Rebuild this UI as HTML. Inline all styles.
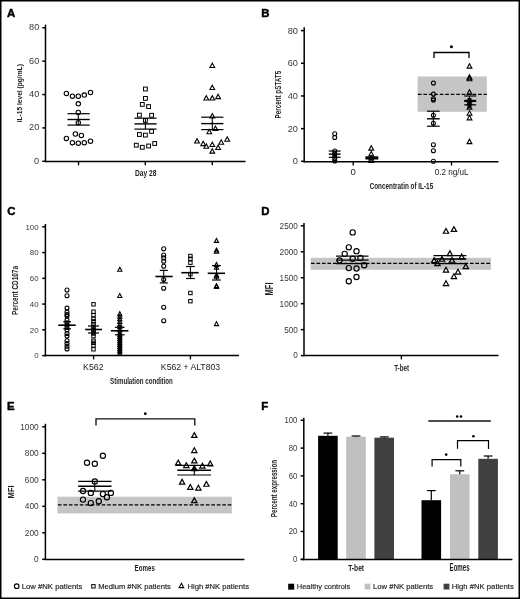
<!DOCTYPE html>
<html><head><meta charset="utf-8"><style>
html,body{margin:0;padding:0;background:#fff;}
svg{display:block;will-change:transform;font-family:"Liberation Sans",sans-serif;}
</style></head><body>
<svg width="520" height="599" viewBox="0 0 520 599">
<rect x="0" y="0" width="520" height="599" fill="#fff"/>
<text x="7.01" y="16.90" font-size="11.4" font-weight="bold" fill="#000" stroke="#000" stroke-width="0.45">A</text>
<line x1="45.50" y1="24.60" x2="45.50" y2="162.25" stroke="#000" stroke-width="1.5" />
<line x1="42.30" y1="27.80" x2="45.50" y2="27.80" stroke="#000" stroke-width="1.5" />
<text x="29.03" y="30.20" font-size="8.60" font-weight="normal" fill="#383838" textLength="10.24" lengthAdjust="spacingAndGlyphs" >80</text>
<line x1="42.30" y1="61.17" x2="45.50" y2="61.17" stroke="#000" stroke-width="1.5" />
<text x="29.03" y="63.57" font-size="8.60" font-weight="normal" fill="#383838" textLength="10.24" lengthAdjust="spacingAndGlyphs" >60</text>
<line x1="42.30" y1="94.54" x2="45.50" y2="94.54" stroke="#000" stroke-width="1.5" />
<text x="29.03" y="96.94" font-size="8.60" font-weight="normal" fill="#383838" textLength="10.24" lengthAdjust="spacingAndGlyphs" >40</text>
<line x1="42.30" y1="127.91" x2="45.50" y2="127.91" stroke="#000" stroke-width="1.5" />
<text x="29.03" y="130.31" font-size="8.60" font-weight="normal" fill="#383838" textLength="10.24" lengthAdjust="spacingAndGlyphs" >20</text>
<line x1="42.30" y1="161.28" x2="45.50" y2="161.28" stroke="#000" stroke-width="1.5" />
<text x="34.14" y="163.68" font-size="8.60" font-weight="normal" fill="#383838" textLength="5.12" lengthAdjust="spacingAndGlyphs" >0</text>
<line x1="45.50" y1="161.50" x2="245.50" y2="161.50" stroke="#000" stroke-width="1.5" />
<line x1="78.50" y1="161.50" x2="78.50" y2="165.30" stroke="#000" stroke-width="1.35" />
<line x1="145.30" y1="161.50" x2="145.30" y2="165.30" stroke="#000" stroke-width="1.35" />
<line x1="212.30" y1="161.50" x2="212.30" y2="165.30" stroke="#000" stroke-width="1.35" />
<text x="134.95" y="175.60" font-size="9.17" font-weight="bold" fill="#222" textLength="21.46" lengthAdjust="spacingAndGlyphs" >Day 28</text>
<text x="22.30" y="122.34" font-size="8.00" font-weight="bold" fill="#222" textLength="58.18" lengthAdjust="spacingAndGlyphs" transform="rotate(-90 22.30 122.34)">IL-15 level (pg/mL)</text>
<circle cx="66.40" cy="93.40" r="2.2" fill="none" stroke="#000" stroke-width="1.1"/>
<circle cx="72.40" cy="96.20" r="2.2" fill="none" stroke="#000" stroke-width="1.1"/>
<circle cx="78.30" cy="96.20" r="2.2" fill="none" stroke="#000" stroke-width="1.1"/>
<circle cx="84.30" cy="95.10" r="2.2" fill="none" stroke="#000" stroke-width="1.1"/>
<circle cx="90.50" cy="92.40" r="2.2" fill="none" stroke="#000" stroke-width="1.1"/>
<circle cx="78.30" cy="103.80" r="2.2" fill="none" stroke="#000" stroke-width="1.1"/>
<circle cx="78.30" cy="112.50" r="2.2" fill="none" stroke="#000" stroke-width="1.1"/>
<circle cx="78.30" cy="122.70" r="2.2" fill="none" stroke="#000" stroke-width="1.1"/>
<circle cx="75.40" cy="134.00" r="2.2" fill="none" stroke="#000" stroke-width="1.1"/>
<circle cx="81.40" cy="135.40" r="2.2" fill="none" stroke="#000" stroke-width="1.1"/>
<circle cx="66.40" cy="138.40" r="2.2" fill="none" stroke="#000" stroke-width="1.1"/>
<circle cx="72.40" cy="142.70" r="2.2" fill="none" stroke="#000" stroke-width="1.1"/>
<circle cx="78.30" cy="143.20" r="2.2" fill="none" stroke="#000" stroke-width="1.1"/>
<circle cx="84.30" cy="142.70" r="2.2" fill="none" stroke="#000" stroke-width="1.1"/>
<circle cx="90.50" cy="141.20" r="2.2" fill="none" stroke="#000" stroke-width="1.1"/>
<line x1="67.50" y1="119.50" x2="89.70" y2="119.50" stroke="#000" stroke-width="1.4" />
<line x1="67.50" y1="113.70" x2="89.70" y2="113.70" stroke="#000" stroke-width="1.2" />
<line x1="67.50" y1="125.10" x2="89.70" y2="125.10" stroke="#000" stroke-width="1.2" />
<line x1="78.30" y1="113.70" x2="78.30" y2="125.10" stroke="#000" stroke-width="1.08" />
<rect x="143.50" y="87.10" width="3.8" height="3.8" fill="none" stroke="#000" stroke-width="1.0"/>
<rect x="143.50" y="96.50" width="3.8" height="3.8" fill="none" stroke="#000" stroke-width="1.0"/>
<rect x="140.40" y="102.50" width="3.8" height="3.8" fill="none" stroke="#000" stroke-width="1.0"/>
<rect x="146.70" y="104.70" width="3.8" height="3.8" fill="none" stroke="#000" stroke-width="1.0"/>
<rect x="137.50" y="113.20" width="3.8" height="3.8" fill="none" stroke="#000" stroke-width="1.0"/>
<rect x="149.70" y="113.40" width="3.8" height="3.8" fill="none" stroke="#000" stroke-width="1.0"/>
<rect x="143.50" y="118.50" width="3.8" height="3.8" fill="none" stroke="#000" stroke-width="1.0"/>
<rect x="137.50" y="132.60" width="3.8" height="3.8" fill="none" stroke="#000" stroke-width="1.0"/>
<rect x="143.50" y="133.20" width="3.8" height="3.8" fill="none" stroke="#000" stroke-width="1.0"/>
<rect x="149.70" y="129.50" width="3.8" height="3.8" fill="none" stroke="#000" stroke-width="1.0"/>
<rect x="134.40" y="143.30" width="3.8" height="3.8" fill="none" stroke="#000" stroke-width="1.0"/>
<rect x="140.40" y="145.40" width="3.8" height="3.8" fill="none" stroke="#000" stroke-width="1.0"/>
<rect x="146.70" y="144.10" width="3.8" height="3.8" fill="none" stroke="#000" stroke-width="1.0"/>
<rect x="152.80" y="141.60" width="3.8" height="3.8" fill="none" stroke="#000" stroke-width="1.0"/>
<line x1="134.40" y1="123.90" x2="156.60" y2="123.90" stroke="#000" stroke-width="1.4" />
<line x1="134.40" y1="118.20" x2="156.60" y2="118.20" stroke="#000" stroke-width="1.2" />
<line x1="134.40" y1="129.10" x2="156.60" y2="129.10" stroke="#000" stroke-width="1.2" />
<line x1="145.40" y1="118.20" x2="145.40" y2="129.10" stroke="#000" stroke-width="1.08" />
<polygon points="212.30,63.15 214.70,67.55 209.90,67.55" fill="none" stroke="#000" stroke-width="1.1" stroke-linejoin="miter"/>
<polygon points="212.30,85.15 214.70,89.55 209.90,89.55" fill="none" stroke="#000" stroke-width="1.1" stroke-linejoin="miter"/>
<polygon points="206.30,95.65 208.70,100.05 203.90,100.05" fill="none" stroke="#000" stroke-width="1.1" stroke-linejoin="miter"/>
<polygon points="212.30,95.65 214.70,100.05 209.90,100.05" fill="none" stroke="#000" stroke-width="1.1" stroke-linejoin="miter"/>
<polygon points="218.10,94.25 220.50,98.65 215.70,98.65" fill="none" stroke="#000" stroke-width="1.1" stroke-linejoin="miter"/>
<polygon points="212.30,113.55 214.70,117.95 209.90,117.95" fill="none" stroke="#000" stroke-width="1.1" stroke-linejoin="miter"/>
<polygon points="215.40,126.05 217.80,130.45 213.00,130.45" fill="none" stroke="#000" stroke-width="1.1" stroke-linejoin="miter"/>
<polygon points="209.30,129.35 211.70,133.75 206.90,133.75" fill="none" stroke="#000" stroke-width="1.1" stroke-linejoin="miter"/>
<polygon points="197.00,138.65 199.40,143.05 194.60,143.05" fill="none" stroke="#000" stroke-width="1.1" stroke-linejoin="miter"/>
<polygon points="203.20,141.25 205.60,145.65 200.80,145.65" fill="none" stroke="#000" stroke-width="1.1" stroke-linejoin="miter"/>
<polygon points="206.30,143.85 208.70,148.25 203.90,148.25" fill="none" stroke="#000" stroke-width="1.1" stroke-linejoin="miter"/>
<polygon points="212.30,142.15 214.70,146.55 209.90,146.55" fill="none" stroke="#000" stroke-width="1.1" stroke-linejoin="miter"/>
<polygon points="221.20,139.85 223.60,144.25 218.80,144.25" fill="none" stroke="#000" stroke-width="1.1" stroke-linejoin="miter"/>
<polygon points="227.20,136.85 229.60,141.25 224.80,141.25" fill="none" stroke="#000" stroke-width="1.1" stroke-linejoin="miter"/>
<polygon points="218.10,145.15 220.50,149.55 215.70,149.55" fill="none" stroke="#000" stroke-width="1.1" stroke-linejoin="miter"/>
<polygon points="212.30,148.75 214.70,153.15 209.90,153.15" fill="none" stroke="#000" stroke-width="1.1" stroke-linejoin="miter"/>
<line x1="201.20" y1="123.60" x2="223.40" y2="123.60" stroke="#000" stroke-width="1.4" />
<line x1="201.20" y1="117.20" x2="223.40" y2="117.20" stroke="#000" stroke-width="1.2" />
<line x1="201.20" y1="129.60" x2="223.40" y2="129.60" stroke="#000" stroke-width="1.2" />
<line x1="212.30" y1="117.20" x2="212.30" y2="129.60" stroke="#000" stroke-width="1.08" />
<circle cx="212.30" cy="123.60" r="1.1" fill="#000"/>
<text x="261.24" y="16.70" font-size="11.4" font-weight="bold" fill="#000" stroke="#000" stroke-width="0.45">B</text>
<line x1="304.20" y1="27.20" x2="304.20" y2="162.45" stroke="#000" stroke-width="1.5" />
<line x1="301.00" y1="30.60" x2="304.20" y2="30.60" stroke="#000" stroke-width="1.5" />
<text x="287.73" y="33.60" font-size="8.60" font-weight="normal" fill="#383838" textLength="10.24" lengthAdjust="spacingAndGlyphs" >80</text>
<line x1="301.00" y1="63.28" x2="304.20" y2="63.28" stroke="#000" stroke-width="1.5" />
<text x="287.73" y="66.28" font-size="8.60" font-weight="normal" fill="#383838" textLength="10.24" lengthAdjust="spacingAndGlyphs" >60</text>
<line x1="301.00" y1="95.96" x2="304.20" y2="95.96" stroke="#000" stroke-width="1.5" />
<text x="287.73" y="98.96" font-size="8.60" font-weight="normal" fill="#383838" textLength="10.24" lengthAdjust="spacingAndGlyphs" >40</text>
<line x1="301.00" y1="128.64" x2="304.20" y2="128.64" stroke="#000" stroke-width="1.5" />
<text x="287.73" y="131.64" font-size="8.60" font-weight="normal" fill="#383838" textLength="10.24" lengthAdjust="spacingAndGlyphs" >20</text>
<line x1="301.00" y1="161.32" x2="304.20" y2="161.32" stroke="#000" stroke-width="1.5" />
<text x="292.84" y="164.32" font-size="8.60" font-weight="normal" fill="#383838" textLength="5.12" lengthAdjust="spacingAndGlyphs" >0</text>
<rect x="417.60" y="76.50" width="69.20" height="35.30" fill="#c5c5c5" />
<line x1="417.90" y1="94.40" x2="486.80" y2="94.40" stroke="#000" stroke-width="1.3" stroke-dasharray="3.6 1.88"/>
<line x1="304.20" y1="161.70" x2="498.50" y2="161.70" stroke="#000" stroke-width="1.5" />
<line x1="353.20" y1="161.70" x2="353.20" y2="165.50" stroke="#000" stroke-width="1.35" />
<line x1="451.50" y1="161.70" x2="451.50" y2="165.50" stroke="#000" stroke-width="1.35" />
<text x="350.62" y="175.20" font-size="8.60" font-weight="normal" fill="#222" textLength="5.35" lengthAdjust="spacingAndGlyphs" >0</text>
<text x="434.68" y="175.20" font-size="8.28" font-weight="normal" fill="#222" textLength="33.89" lengthAdjust="spacingAndGlyphs" >0.2 ng/uL</text>
<text x="369.64" y="188.50" font-size="8.83" font-weight="bold" fill="#222" textLength="63.54" lengthAdjust="spacingAndGlyphs" >Concentratin of IL-15</text>
<text x="281.20" y="118.42" font-size="8.31" font-weight="bold" fill="#222" textLength="47.60" lengthAdjust="spacingAndGlyphs" transform="rotate(-90 281.20 118.42)">Percent pSTAT5</text>
<polyline points="434.0,57.9 434.0,52.5 469.0,52.5 469.0,57.9" fill="none" stroke="#000" stroke-width="1.3"/>
<circle cx="451.40" cy="46.70" r="1.5" fill="#000"/>
<circle cx="334.75" cy="133.75" r="2.0" fill="none" stroke="#000" stroke-width="1.1"/>
<circle cx="334.75" cy="137.50" r="2.0" fill="none" stroke="#000" stroke-width="1.1"/>
<circle cx="334.75" cy="151.00" r="2.0" fill="none" stroke="#000" stroke-width="1.1"/>
<circle cx="334.75" cy="153.50" r="2.0" fill="none" stroke="#000" stroke-width="1.1"/>
<circle cx="334.75" cy="156.00" r="2.0" fill="none" stroke="#000" stroke-width="1.1"/>
<circle cx="334.75" cy="158.50" r="2.0" fill="none" stroke="#000" stroke-width="1.1"/>
<circle cx="334.75" cy="161.00" r="2.0" fill="none" stroke="#000" stroke-width="1.1"/>
<line x1="328.75" y1="154.10" x2="340.60" y2="154.10" stroke="#000" stroke-width="1.4" />
<line x1="328.75" y1="151.00" x2="340.60" y2="151.00" stroke="#000" stroke-width="1.2" />
<line x1="328.75" y1="157.30" x2="340.60" y2="157.30" stroke="#000" stroke-width="1.2" />
<line x1="334.75" y1="151.00" x2="334.75" y2="157.30" stroke="#000" stroke-width="1.08" />
<polygon points="371.25,145.75 373.65,150.15 368.85,150.15" fill="none" stroke="#000" stroke-width="1.1" stroke-linejoin="miter"/>
<polygon points="371.25,151.45 373.65,155.85 368.85,155.85" fill="none" stroke="#000" stroke-width="1.1" stroke-linejoin="miter"/>
<polygon points="371.25,155.65 373.65,160.05 368.85,160.05" fill="none" stroke="#000" stroke-width="1.1" stroke-linejoin="miter"/>
<polygon points="371.25,158.15 373.65,162.55 368.85,162.55" fill="none" stroke="#000" stroke-width="1.1" stroke-linejoin="miter"/>
<line x1="365.40" y1="157.90" x2="378.30" y2="157.90" stroke="#000" stroke-width="3.2" />
<circle cx="433.40" cy="83.10" r="2.0" fill="none" stroke="#000" stroke-width="1.1"/>
<circle cx="433.40" cy="94.10" r="2.0" fill="none" stroke="#000" stroke-width="1.1"/>
<circle cx="433.40" cy="98.70" r="2.0" fill="none" stroke="#000" stroke-width="1.1"/>
<circle cx="433.40" cy="100.10" r="2.0" fill="none" stroke="#000" stroke-width="1.1"/>
<circle cx="433.40" cy="115.20" r="2.0" fill="none" stroke="#000" stroke-width="1.1"/>
<circle cx="433.40" cy="123.20" r="2.0" fill="none" stroke="#000" stroke-width="1.1"/>
<circle cx="433.40" cy="144.80" r="2.0" fill="none" stroke="#000" stroke-width="1.1"/>
<circle cx="433.40" cy="150.80" r="2.0" fill="none" stroke="#000" stroke-width="1.1"/>
<circle cx="433.40" cy="161.30" r="2.0" fill="none" stroke="#000" stroke-width="1.1"/>
<line x1="427.00" y1="118.80" x2="439.70" y2="118.80" stroke="#000" stroke-width="1.4" />
<line x1="427.00" y1="111.20" x2="439.70" y2="111.20" stroke="#000" stroke-width="1.2" />
<line x1="427.00" y1="126.20" x2="439.70" y2="126.20" stroke="#000" stroke-width="1.2" />
<line x1="433.40" y1="111.20" x2="433.40" y2="126.20" stroke="#000" stroke-width="1.08" />
<polygon points="469.50,63.75 471.90,68.15 467.10,68.15" fill="none" stroke="#000" stroke-width="1.1" stroke-linejoin="miter"/>
<polygon points="469.50,74.75 471.90,79.15 467.10,79.15" fill="none" stroke="#000" stroke-width="1.1" stroke-linejoin="miter"/>
<polygon points="469.50,76.35 471.90,80.75 467.10,80.75" fill="none" stroke="#000" stroke-width="1.1" stroke-linejoin="miter"/>
<polygon points="469.50,89.75 471.90,94.15 467.10,94.15" fill="none" stroke="#000" stroke-width="1.1" stroke-linejoin="miter"/>
<polygon points="469.50,97.65 471.90,102.05 467.10,102.05" fill="none" stroke="#000" stroke-width="1.1" stroke-linejoin="miter"/>
<polygon points="469.50,100.65 471.90,105.05 467.10,105.05" fill="none" stroke="#000" stroke-width="1.1" stroke-linejoin="miter"/>
<polygon points="469.50,104.75 471.90,109.15 467.10,109.15" fill="none" stroke="#000" stroke-width="1.1" stroke-linejoin="miter"/>
<polygon points="469.50,110.85 471.90,115.25 467.10,115.25" fill="none" stroke="#000" stroke-width="1.1" stroke-linejoin="miter"/>
<polygon points="469.50,115.45 471.90,119.85 467.10,119.85" fill="none" stroke="#000" stroke-width="1.1" stroke-linejoin="miter"/>
<polygon points="469.50,139.25 471.90,143.65 467.10,143.65" fill="none" stroke="#000" stroke-width="1.1" stroke-linejoin="miter"/>
<line x1="464.20" y1="100.90" x2="476.20" y2="100.90" stroke="#000" stroke-width="2.2" />
<line x1="464.20" y1="96.00" x2="476.20" y2="96.00" stroke="#000" stroke-width="1.2" />
<line x1="464.20" y1="104.80" x2="476.20" y2="104.80" stroke="#000" stroke-width="1.2" />
<line x1="469.50" y1="96.00" x2="469.50" y2="104.80" stroke="#000" stroke-width="1.08" />
<rect x="467.60" y="98.00" width="3.80" height="10.00" fill="#000" />
<text x="7.23" y="215.30" font-size="11.4" font-weight="bold" fill="#000" stroke="#000" stroke-width="0.45">C</text>
<line x1="45.40" y1="224.00" x2="45.40" y2="356.35" stroke="#000" stroke-width="1.5" />
<line x1="42.20" y1="226.80" x2="45.40" y2="226.80" stroke="#000" stroke-width="1.5" />
<text x="25.43" y="229.56" font-size="7.90" font-weight="normal" fill="#383838" textLength="13.18" lengthAdjust="spacingAndGlyphs" >100</text>
<line x1="42.20" y1="252.56" x2="45.40" y2="252.56" stroke="#000" stroke-width="1.5" />
<text x="29.82" y="255.32" font-size="7.90" font-weight="normal" fill="#383838" textLength="8.79" lengthAdjust="spacingAndGlyphs" >80</text>
<line x1="42.20" y1="278.32" x2="45.40" y2="278.32" stroke="#000" stroke-width="1.5" />
<text x="29.82" y="281.08" font-size="7.90" font-weight="normal" fill="#383838" textLength="8.79" lengthAdjust="spacingAndGlyphs" >60</text>
<line x1="42.20" y1="304.08" x2="45.40" y2="304.08" stroke="#000" stroke-width="1.5" />
<text x="29.82" y="306.84" font-size="7.90" font-weight="normal" fill="#383838" textLength="8.79" lengthAdjust="spacingAndGlyphs" >40</text>
<line x1="42.20" y1="329.84" x2="45.40" y2="329.84" stroke="#000" stroke-width="1.5" />
<text x="29.82" y="332.60" font-size="7.90" font-weight="normal" fill="#383838" textLength="8.79" lengthAdjust="spacingAndGlyphs" >20</text>
<line x1="42.20" y1="355.60" x2="45.40" y2="355.60" stroke="#000" stroke-width="1.5" />
<text x="34.22" y="358.36" font-size="7.90" font-weight="normal" fill="#383838" textLength="4.39" lengthAdjust="spacingAndGlyphs" >0</text>
<line x1="45.40" y1="355.60" x2="239.00" y2="355.60" stroke="#000" stroke-width="1.5" />
<line x1="93.60" y1="355.60" x2="93.60" y2="359.40" stroke="#000" stroke-width="1.35" />
<line x1="190.40" y1="355.60" x2="190.40" y2="359.40" stroke="#000" stroke-width="1.35" />
<text x="83.08" y="370.20" font-size="8.45" font-weight="normal" fill="#222" textLength="20.46" lengthAdjust="spacingAndGlyphs" >K562</text>
<text x="160.89" y="370.20" font-size="8.45" font-weight="normal" fill="#222" textLength="59.19" lengthAdjust="spacingAndGlyphs" >K562 + ALT803</text>
<text x="110.12" y="383.70" font-size="9.38" font-weight="bold" fill="#222" textLength="62.76" lengthAdjust="spacingAndGlyphs" >Stimulation condition</text>
<text x="18.50" y="314.93" font-size="8.60" font-weight="bold" fill="#222" textLength="48.89" lengthAdjust="spacingAndGlyphs" transform="rotate(-90 18.50 314.93)">Percent CD107a</text>
<circle cx="67.00" cy="290.00" r="2.0" fill="none" stroke="#000" stroke-width="1.1"/>
<circle cx="67.00" cy="295.80" r="2.0" fill="none" stroke="#000" stroke-width="1.1"/>
<circle cx="67.00" cy="308.10" r="2.0" fill="none" stroke="#000" stroke-width="1.1"/>
<circle cx="67.00" cy="312.10" r="2.0" fill="none" stroke="#000" stroke-width="1.1"/>
<circle cx="67.00" cy="314.50" r="2.0" fill="none" stroke="#000" stroke-width="1.1"/>
<circle cx="67.00" cy="316.10" r="2.0" fill="none" stroke="#000" stroke-width="1.1"/>
<circle cx="67.00" cy="320.10" r="2.0" fill="none" stroke="#000" stroke-width="1.1"/>
<circle cx="67.00" cy="322.80" r="2.0" fill="none" stroke="#000" stroke-width="1.1"/>
<circle cx="67.00" cy="325.00" r="2.0" fill="none" stroke="#000" stroke-width="1.1"/>
<circle cx="67.00" cy="327.50" r="2.0" fill="none" stroke="#000" stroke-width="1.1"/>
<circle cx="67.00" cy="330.00" r="2.0" fill="none" stroke="#000" stroke-width="1.1"/>
<circle cx="67.00" cy="333.50" r="2.0" fill="none" stroke="#000" stroke-width="1.1"/>
<circle cx="67.00" cy="336.10" r="2.0" fill="none" stroke="#000" stroke-width="1.1"/>
<circle cx="67.00" cy="340.80" r="2.0" fill="none" stroke="#000" stroke-width="1.1"/>
<circle cx="67.00" cy="343.50" r="2.0" fill="none" stroke="#000" stroke-width="1.1"/>
<circle cx="67.00" cy="346.20" r="2.0" fill="none" stroke="#000" stroke-width="1.1"/>
<circle cx="67.00" cy="348.90" r="2.0" fill="none" stroke="#000" stroke-width="1.1"/>
<line x1="58.30" y1="325.20" x2="75.70" y2="325.20" stroke="#000" stroke-width="1.6" />
<line x1="63.30" y1="321.70" x2="71.00" y2="321.70" stroke="#000" stroke-width="1.2" />
<line x1="63.30" y1="328.80" x2="71.00" y2="328.80" stroke="#000" stroke-width="1.2" />
<line x1="67.00" y1="321.70" x2="67.00" y2="328.80" stroke="#000" stroke-width="1.08" />
<rect x="91.80" y="302.60" width="3.4" height="3.4" fill="none" stroke="#000" stroke-width="1.0"/>
<rect x="91.80" y="310.00" width="3.4" height="3.4" fill="none" stroke="#000" stroke-width="1.0"/>
<rect x="91.80" y="313.50" width="3.4" height="3.4" fill="none" stroke="#000" stroke-width="1.0"/>
<rect x="91.80" y="317.10" width="3.4" height="3.4" fill="none" stroke="#000" stroke-width="1.0"/>
<rect x="91.80" y="319.70" width="3.4" height="3.4" fill="none" stroke="#000" stroke-width="1.0"/>
<rect x="91.80" y="322.40" width="3.4" height="3.4" fill="none" stroke="#000" stroke-width="1.0"/>
<rect x="91.80" y="325.10" width="3.4" height="3.4" fill="none" stroke="#000" stroke-width="1.0"/>
<rect x="91.80" y="327.80" width="3.4" height="3.4" fill="none" stroke="#000" stroke-width="1.0"/>
<rect x="91.80" y="329.80" width="3.4" height="3.4" fill="none" stroke="#000" stroke-width="1.0"/>
<rect x="91.80" y="331.80" width="3.4" height="3.4" fill="none" stroke="#000" stroke-width="1.0"/>
<rect x="91.80" y="334.40" width="3.4" height="3.4" fill="none" stroke="#000" stroke-width="1.0"/>
<rect x="91.80" y="339.10" width="3.4" height="3.4" fill="none" stroke="#000" stroke-width="1.0"/>
<rect x="91.80" y="341.10" width="3.4" height="3.4" fill="none" stroke="#000" stroke-width="1.0"/>
<rect x="91.80" y="343.80" width="3.4" height="3.4" fill="none" stroke="#000" stroke-width="1.0"/>
<rect x="91.80" y="347.60" width="3.4" height="3.4" fill="none" stroke="#000" stroke-width="1.0"/>
<line x1="85.10" y1="329.50" x2="102.00" y2="329.50" stroke="#000" stroke-width="1.6" />
<line x1="88.00" y1="326.00" x2="99.00" y2="326.00" stroke="#000" stroke-width="1.2" />
<line x1="88.00" y1="333.00" x2="99.00" y2="333.00" stroke="#000" stroke-width="1.2" />
<line x1="93.50" y1="326.00" x2="93.50" y2="333.00" stroke="#000" stroke-width="1.08" />
<rect x="118.30" y="332.00" width="3.00" height="22.50" fill="#000" />
<polygon points="119.80,267.30 121.90,271.20 117.70,271.20" fill="none" stroke="#000" stroke-width="1.1" stroke-linejoin="miter"/>
<polygon points="119.80,293.60 121.90,297.50 117.70,297.50" fill="none" stroke="#000" stroke-width="1.1" stroke-linejoin="miter"/>
<polygon points="119.80,311.70 121.90,315.60 117.70,315.60" fill="none" stroke="#000" stroke-width="1.1" stroke-linejoin="miter"/>
<polygon points="119.80,314.30 121.90,318.20 117.70,318.20" fill="none" stroke="#000" stroke-width="1.1" stroke-linejoin="miter"/>
<polygon points="119.80,316.90 121.90,320.80 117.70,320.80" fill="none" stroke="#000" stroke-width="1.1" stroke-linejoin="miter"/>
<polygon points="119.80,319.60 121.90,323.50 117.70,323.50" fill="none" stroke="#000" stroke-width="1.1" stroke-linejoin="miter"/>
<polygon points="119.80,322.20 121.90,326.10 117.70,326.10" fill="none" stroke="#000" stroke-width="1.1" stroke-linejoin="miter"/>
<polygon points="119.80,324.90 121.90,328.80 117.70,328.80" fill="none" stroke="#000" stroke-width="1.1" stroke-linejoin="miter"/>
<polygon points="119.80,327.90 121.90,331.80 117.70,331.80" fill="none" stroke="#000" stroke-width="1.1" stroke-linejoin="miter"/>
<polygon points="119.80,330.90 121.90,334.80 117.70,334.80" fill="none" stroke="#000" stroke-width="1.1" stroke-linejoin="miter"/>
<polygon points="119.80,332.90 121.90,336.80 117.70,336.80" fill="none" stroke="#000" stroke-width="1.1" stroke-linejoin="miter"/>
<polygon points="119.80,334.90 121.90,338.80 117.70,338.80" fill="none" stroke="#000" stroke-width="1.1" stroke-linejoin="miter"/>
<polygon points="119.80,336.90 121.90,340.80 117.70,340.80" fill="none" stroke="#000" stroke-width="1.1" stroke-linejoin="miter"/>
<polygon points="119.80,338.90 121.90,342.80 117.70,342.80" fill="none" stroke="#000" stroke-width="1.1" stroke-linejoin="miter"/>
<polygon points="119.80,340.90 121.90,344.80 117.70,344.80" fill="none" stroke="#000" stroke-width="1.1" stroke-linejoin="miter"/>
<polygon points="119.80,342.90 121.90,346.80 117.70,346.80" fill="none" stroke="#000" stroke-width="1.1" stroke-linejoin="miter"/>
<polygon points="119.80,344.90 121.90,348.80 117.70,348.80" fill="none" stroke="#000" stroke-width="1.1" stroke-linejoin="miter"/>
<polygon points="119.80,346.90 121.90,350.80 117.70,350.80" fill="none" stroke="#000" stroke-width="1.1" stroke-linejoin="miter"/>
<polygon points="119.80,348.90 121.90,352.80 117.70,352.80" fill="none" stroke="#000" stroke-width="1.1" stroke-linejoin="miter"/>
<polygon points="119.80,351.40 121.90,355.30 117.70,355.30" fill="none" stroke="#000" stroke-width="1.1" stroke-linejoin="miter"/>
<line x1="110.90" y1="330.80" x2="128.40" y2="330.80" stroke="#000" stroke-width="1.6" />
<line x1="114.90" y1="327.30" x2="124.60" y2="327.30" stroke="#000" stroke-width="1.2" />
<line x1="114.90" y1="334.80" x2="124.60" y2="334.80" stroke="#000" stroke-width="1.2" />
<line x1="119.80" y1="327.30" x2="119.80" y2="334.80" stroke="#000" stroke-width="1.08" />
<circle cx="163.70" cy="248.80" r="2.0" fill="none" stroke="#000" stroke-width="1.1"/>
<circle cx="163.70" cy="255.00" r="2.0" fill="none" stroke="#000" stroke-width="1.1"/>
<circle cx="163.70" cy="257.90" r="2.0" fill="none" stroke="#000" stroke-width="1.1"/>
<circle cx="163.70" cy="261.30" r="2.0" fill="none" stroke="#000" stroke-width="1.1"/>
<circle cx="163.70" cy="266.20" r="2.0" fill="none" stroke="#000" stroke-width="1.1"/>
<circle cx="163.70" cy="279.60" r="2.0" fill="none" stroke="#000" stroke-width="1.1"/>
<circle cx="163.70" cy="288.30" r="2.0" fill="none" stroke="#000" stroke-width="1.1"/>
<circle cx="163.70" cy="307.30" r="2.0" fill="none" stroke="#000" stroke-width="1.1"/>
<circle cx="163.70" cy="320.80" r="2.0" fill="none" stroke="#000" stroke-width="1.1"/>
<line x1="155.40" y1="276.50" x2="172.70" y2="276.50" stroke="#000" stroke-width="1.6" />
<line x1="159.80" y1="270.40" x2="167.90" y2="270.40" stroke="#000" stroke-width="1.2" />
<line x1="159.80" y1="282.90" x2="167.90" y2="282.90" stroke="#000" stroke-width="1.2" />
<line x1="163.70" y1="270.40" x2="163.70" y2="282.90" stroke="#000" stroke-width="1.08" />
<rect x="188.70" y="254.30" width="3.4" height="3.4" fill="none" stroke="#000" stroke-width="1.0"/>
<rect x="188.70" y="257.10" width="3.4" height="3.4" fill="none" stroke="#000" stroke-width="1.0"/>
<rect x="188.70" y="261.00" width="3.4" height="3.4" fill="none" stroke="#000" stroke-width="1.0"/>
<rect x="188.70" y="272.50" width="3.4" height="3.4" fill="none" stroke="#000" stroke-width="1.0"/>
<rect x="188.70" y="291.30" width="3.4" height="3.4" fill="none" stroke="#000" stroke-width="1.0"/>
<rect x="188.70" y="299.50" width="3.4" height="3.4" fill="none" stroke="#000" stroke-width="1.0"/>
<line x1="181.30" y1="272.70" x2="198.70" y2="272.70" stroke="#000" stroke-width="1.6" />
<line x1="186.00" y1="266.50" x2="194.80" y2="266.50" stroke="#000" stroke-width="1.2" />
<line x1="186.00" y1="278.50" x2="194.80" y2="278.50" stroke="#000" stroke-width="1.2" />
<line x1="190.40" y1="266.50" x2="190.40" y2="278.50" stroke="#000" stroke-width="1.08" />
<polygon points="216.50,238.50 218.60,242.40 214.40,242.40" fill="none" stroke="#000" stroke-width="1.1" stroke-linejoin="miter"/>
<polygon points="216.50,248.10 218.60,252.00 214.40,252.00" fill="none" stroke="#000" stroke-width="1.1" stroke-linejoin="miter"/>
<polygon points="216.50,249.40 218.60,253.30 214.40,253.30" fill="none" stroke="#000" stroke-width="1.1" stroke-linejoin="miter"/>
<polygon points="216.50,262.50 218.60,266.40 214.40,266.40" fill="none" stroke="#000" stroke-width="1.1" stroke-linejoin="miter"/>
<polygon points="216.50,265.40 218.60,269.30 214.40,269.30" fill="none" stroke="#000" stroke-width="1.1" stroke-linejoin="miter"/>
<polygon points="216.50,273.10 218.60,277.00 214.40,277.00" fill="none" stroke="#000" stroke-width="1.1" stroke-linejoin="miter"/>
<polygon points="216.50,274.40 218.60,278.30 214.40,278.30" fill="none" stroke="#000" stroke-width="1.1" stroke-linejoin="miter"/>
<polygon points="216.50,283.70 218.60,287.60 214.40,287.60" fill="none" stroke="#000" stroke-width="1.1" stroke-linejoin="miter"/>
<polygon points="216.50,284.60 218.60,288.50 214.40,288.50" fill="none" stroke="#000" stroke-width="1.1" stroke-linejoin="miter"/>
<polygon points="216.50,321.70 218.60,325.60 214.40,325.60" fill="none" stroke="#000" stroke-width="1.1" stroke-linejoin="miter"/>
<line x1="207.70" y1="273.30" x2="225.00" y2="273.30" stroke="#000" stroke-width="1.6" />
<line x1="212.00" y1="265.60" x2="220.80" y2="265.60" stroke="#000" stroke-width="1.2" />
<line x1="212.00" y1="280.00" x2="220.80" y2="280.00" stroke="#000" stroke-width="1.2" />
<line x1="216.50" y1="265.60" x2="216.50" y2="280.00" stroke="#000" stroke-width="1.08" />
<text x="261.14" y="215.20" font-size="11.4" font-weight="bold" fill="#000" stroke="#000" stroke-width="0.45">D</text>
<line x1="304.00" y1="223.00" x2="304.00" y2="356.35" stroke="#000" stroke-width="1.5" />
<line x1="300.80" y1="225.80" x2="304.00" y2="225.80" stroke="#000" stroke-width="1.5" />
<text x="279.58" y="228.66" font-size="8.20" font-weight="normal" fill="#383838" textLength="18.24" lengthAdjust="spacingAndGlyphs" >2500</text>
<line x1="300.80" y1="251.76" x2="304.00" y2="251.76" stroke="#000" stroke-width="1.5" />
<text x="279.58" y="254.62" font-size="8.20" font-weight="normal" fill="#383838" textLength="18.24" lengthAdjust="spacingAndGlyphs" >2000</text>
<line x1="300.80" y1="277.72" x2="304.00" y2="277.72" stroke="#000" stroke-width="1.5" />
<text x="279.58" y="280.58" font-size="8.20" font-weight="normal" fill="#383838" textLength="18.24" lengthAdjust="spacingAndGlyphs" >1500</text>
<line x1="300.80" y1="303.68" x2="304.00" y2="303.68" stroke="#000" stroke-width="1.5" />
<text x="279.58" y="306.54" font-size="8.20" font-weight="normal" fill="#383838" textLength="18.24" lengthAdjust="spacingAndGlyphs" >1000</text>
<line x1="300.80" y1="329.64" x2="304.00" y2="329.64" stroke="#000" stroke-width="1.5" />
<text x="284.14" y="332.50" font-size="8.20" font-weight="normal" fill="#383838" textLength="13.68" lengthAdjust="spacingAndGlyphs" >500</text>
<line x1="300.80" y1="355.60" x2="304.00" y2="355.60" stroke="#000" stroke-width="1.5" />
<text x="293.26" y="358.46" font-size="8.20" font-weight="normal" fill="#383838" textLength="4.56" lengthAdjust="spacingAndGlyphs" >0</text>
<rect x="310.60" y="257.80" width="180.40" height="12.00" fill="#c5c5c5" />
<line x1="311.00" y1="263.40" x2="491.00" y2="263.40" stroke="#000" stroke-width="1.3" stroke-dasharray="3.6 1.88"/>
<line x1="304.00" y1="355.60" x2="498.50" y2="355.60" stroke="#000" stroke-width="1.5" />
<line x1="401.40" y1="355.60" x2="401.40" y2="359.40" stroke="#000" stroke-width="1.35" />
<text x="394.13" y="370.60" font-size="9.79" font-weight="bold" fill="#222" textLength="14.94" lengthAdjust="spacingAndGlyphs" >T-bet</text>
<text x="272.85" y="295.51" font-size="10.03" font-weight="bold" fill="#222" textLength="13.01" lengthAdjust="spacingAndGlyphs" transform="rotate(-90 272.85 295.51)">MFI</text>
<circle cx="352.70" cy="232.40" r="2.6" fill="none" stroke="#000" stroke-width="1.15"/>
<circle cx="348.80" cy="247.30" r="2.6" fill="none" stroke="#000" stroke-width="1.15"/>
<circle cx="356.50" cy="251.20" r="2.6" fill="none" stroke="#000" stroke-width="1.15"/>
<circle cx="344.70" cy="253.90" r="2.6" fill="none" stroke="#000" stroke-width="1.15"/>
<circle cx="352.70" cy="258.80" r="2.6" fill="none" stroke="#000" stroke-width="1.15"/>
<circle cx="360.40" cy="258.00" r="2.6" fill="none" stroke="#000" stroke-width="1.15"/>
<circle cx="339.60" cy="260.40" r="2.6" fill="none" stroke="#000" stroke-width="1.15"/>
<circle cx="364.20" cy="265.30" r="2.6" fill="none" stroke="#000" stroke-width="1.15"/>
<circle cx="348.80" cy="268.10" r="2.6" fill="none" stroke="#000" stroke-width="1.15"/>
<circle cx="356.50" cy="268.50" r="2.6" fill="none" stroke="#000" stroke-width="1.15"/>
<circle cx="356.50" cy="277.00" r="2.6" fill="none" stroke="#000" stroke-width="1.15"/>
<circle cx="348.80" cy="281.20" r="2.6" fill="none" stroke="#000" stroke-width="1.15"/>
<line x1="336.00" y1="260.10" x2="368.50" y2="260.10" stroke="#000" stroke-width="1.4" />
<line x1="336.00" y1="256.20" x2="368.50" y2="256.20" stroke="#000" stroke-width="1.2" />
<line x1="336.00" y1="263.60" x2="368.50" y2="263.60" stroke="#000" stroke-width="1.2" />
<polygon points="446.00,228.45 448.65,233.25 443.35,233.25" fill="none" stroke="#000" stroke-width="1.2" stroke-linejoin="miter"/>
<polygon points="453.90,226.65 456.55,231.45 451.25,231.45" fill="none" stroke="#000" stroke-width="1.2" stroke-linejoin="miter"/>
<polygon points="449.90,250.85 452.55,255.65 447.25,255.65" fill="none" stroke="#000" stroke-width="1.2" stroke-linejoin="miter"/>
<polygon points="461.70,254.05 464.35,258.85 459.05,258.85" fill="none" stroke="#000" stroke-width="1.2" stroke-linejoin="miter"/>
<polygon points="434.10,257.85 436.75,262.65 431.45,262.65" fill="none" stroke="#000" stroke-width="1.2" stroke-linejoin="miter"/>
<polygon points="437.50,260.75 440.15,265.55 434.85,265.55" fill="none" stroke="#000" stroke-width="1.2" stroke-linejoin="miter"/>
<polygon points="465.80,263.85 468.45,268.65 463.15,268.65" fill="none" stroke="#000" stroke-width="1.2" stroke-linejoin="miter"/>
<polygon points="446.00,267.25 448.65,272.05 443.35,272.05" fill="none" stroke="#000" stroke-width="1.2" stroke-linejoin="miter"/>
<polygon points="458.00,269.25 460.65,274.05 455.35,274.05" fill="none" stroke="#000" stroke-width="1.2" stroke-linejoin="miter"/>
<polygon points="453.90,273.75 456.55,278.55 451.25,278.55" fill="none" stroke="#000" stroke-width="1.2" stroke-linejoin="miter"/>
<polygon points="446.00,280.75 448.65,285.55 443.35,285.55" fill="none" stroke="#000" stroke-width="1.2" stroke-linejoin="miter"/>
<polygon points="442.00,256.45 444.65,261.25 439.35,261.25" fill="none" stroke="#000" stroke-width="1.2" stroke-linejoin="miter"/>
<polygon points="452.00,257.45 454.65,262.25 449.35,262.25" fill="none" stroke="#000" stroke-width="1.2" stroke-linejoin="miter"/>
<line x1="433.50" y1="259.00" x2="466.40" y2="259.00" stroke="#000" stroke-width="1.4" />
<line x1="433.50" y1="255.70" x2="466.40" y2="255.70" stroke="#000" stroke-width="1.2" />
<line x1="433.50" y1="263.70" x2="466.40" y2="263.70" stroke="#000" stroke-width="1.2" />
<text x="6.94" y="410.00" font-size="11.4" font-weight="bold" fill="#000" stroke="#000" stroke-width="0.45">E</text>
<line x1="45.40" y1="423.80" x2="45.40" y2="560.15" stroke="#000" stroke-width="1.5" />
<line x1="42.20" y1="426.80" x2="45.40" y2="426.80" stroke="#000" stroke-width="1.5" />
<text x="20.16" y="429.70" font-size="8.30" font-weight="normal" fill="#383838" textLength="18.46" lengthAdjust="spacingAndGlyphs" >1000</text>
<line x1="42.20" y1="453.30" x2="45.40" y2="453.30" stroke="#000" stroke-width="1.5" />
<text x="24.78" y="456.20" font-size="8.30" font-weight="normal" fill="#383838" textLength="13.85" lengthAdjust="spacingAndGlyphs" >800</text>
<line x1="42.20" y1="479.80" x2="45.40" y2="479.80" stroke="#000" stroke-width="1.5" />
<text x="24.78" y="482.70" font-size="8.30" font-weight="normal" fill="#383838" textLength="13.85" lengthAdjust="spacingAndGlyphs" >600</text>
<line x1="42.20" y1="506.30" x2="45.40" y2="506.30" stroke="#000" stroke-width="1.5" />
<text x="24.78" y="509.20" font-size="8.30" font-weight="normal" fill="#383838" textLength="13.85" lengthAdjust="spacingAndGlyphs" >400</text>
<line x1="42.20" y1="532.80" x2="45.40" y2="532.80" stroke="#000" stroke-width="1.5" />
<text x="24.78" y="535.70" font-size="8.30" font-weight="normal" fill="#383838" textLength="13.85" lengthAdjust="spacingAndGlyphs" >200</text>
<line x1="42.20" y1="559.30" x2="45.40" y2="559.30" stroke="#000" stroke-width="1.5" />
<text x="34.01" y="562.20" font-size="8.30" font-weight="normal" fill="#383838" textLength="4.62" lengthAdjust="spacingAndGlyphs" >0</text>
<rect x="57.50" y="496.70" width="174.30" height="16.70" fill="#c5c5c5" />
<line x1="57.90" y1="504.80" x2="231.80" y2="504.80" stroke="#000" stroke-width="1.3" stroke-dasharray="3.6 1.88"/>
<line x1="45.40" y1="559.40" x2="244.40" y2="559.40" stroke="#000" stroke-width="1.5" />
<text x="134.59" y="570.90" font-size="9.74" font-weight="bold" fill="#222" textLength="20.27" lengthAdjust="spacingAndGlyphs" >Eomes</text>
<text x="14.50" y="498.41" font-size="9.30" font-weight="bold" fill="#222" textLength="13.01" lengthAdjust="spacingAndGlyphs" transform="rotate(-90 14.50 498.41)">MFI</text>
<polyline points="96.0,425.5 96.0,418.9 194.8,418.9 194.8,425.5" fill="none" stroke="#111" stroke-width="1.35"/>
<circle cx="145.30" cy="413.70" r="1.35" fill="#000"/>
<circle cx="102.90" cy="455.80" r="2.6" fill="none" stroke="#000" stroke-width="1.15"/>
<circle cx="87.00" cy="462.70" r="2.6" fill="none" stroke="#000" stroke-width="1.15"/>
<circle cx="94.80" cy="463.80" r="2.6" fill="none" stroke="#000" stroke-width="1.15"/>
<circle cx="94.80" cy="481.40" r="2.6" fill="none" stroke="#000" stroke-width="1.15"/>
<circle cx="83.00" cy="491.00" r="2.6" fill="none" stroke="#000" stroke-width="1.15"/>
<circle cx="90.80" cy="492.90" r="2.6" fill="none" stroke="#000" stroke-width="1.15"/>
<circle cx="102.90" cy="494.10" r="2.6" fill="none" stroke="#000" stroke-width="1.15"/>
<circle cx="110.90" cy="492.90" r="2.6" fill="none" stroke="#000" stroke-width="1.15"/>
<circle cx="106.90" cy="497.30" r="2.6" fill="none" stroke="#000" stroke-width="1.15"/>
<circle cx="83.00" cy="499.60" r="2.6" fill="none" stroke="#000" stroke-width="1.15"/>
<circle cx="90.80" cy="503.10" r="2.6" fill="none" stroke="#000" stroke-width="1.15"/>
<circle cx="98.80" cy="501.30" r="2.6" fill="none" stroke="#000" stroke-width="1.15"/>
<line x1="78.10" y1="486.30" x2="111.50" y2="486.30" stroke="#000" stroke-width="1.4" />
<line x1="78.10" y1="481.40" x2="111.50" y2="481.40" stroke="#000" stroke-width="1.2" />
<line x1="78.10" y1="491.20" x2="111.50" y2="491.20" stroke="#000" stroke-width="1.2" />
<line x1="94.80" y1="481.40" x2="94.80" y2="491.20" stroke="#000" stroke-width="1.08" />
<polygon points="194.30,432.65 196.95,437.45 191.65,437.45" fill="none" stroke="#000" stroke-width="1.2" stroke-linejoin="miter"/>
<polygon points="194.30,447.75 196.95,452.55 191.65,452.55" fill="none" stroke="#000" stroke-width="1.2" stroke-linejoin="miter"/>
<polygon points="194.30,458.15 196.95,462.95 191.65,462.95" fill="none" stroke="#000" stroke-width="1.2" stroke-linejoin="miter"/>
<polygon points="178.20,460.15 180.85,464.95 175.55,464.95" fill="none" stroke="#000" stroke-width="1.2" stroke-linejoin="miter"/>
<polygon points="186.30,462.75 188.95,467.55 183.65,467.55" fill="none" stroke="#000" stroke-width="1.2" stroke-linejoin="miter"/>
<polygon points="202.40,463.25 205.05,468.05 199.75,468.05" fill="none" stroke="#000" stroke-width="1.2" stroke-linejoin="miter"/>
<polygon points="210.20,461.05 212.85,465.85 207.55,465.85" fill="none" stroke="#000" stroke-width="1.2" stroke-linejoin="miter"/>
<polygon points="182.10,479.35 184.75,484.15 179.45,484.15" fill="none" stroke="#000" stroke-width="1.2" stroke-linejoin="miter"/>
<polygon points="190.30,484.55 192.95,489.35 187.65,489.35" fill="none" stroke="#000" stroke-width="1.2" stroke-linejoin="miter"/>
<polygon points="198.40,485.25 201.05,490.05 195.75,490.05" fill="none" stroke="#000" stroke-width="1.2" stroke-linejoin="miter"/>
<polygon points="206.40,481.45 209.05,486.25 203.75,486.25" fill="none" stroke="#000" stroke-width="1.2" stroke-linejoin="miter"/>
<polygon points="194.30,497.85 196.95,502.65 191.65,502.65" fill="none" stroke="#000" stroke-width="1.2" stroke-linejoin="miter"/>
<polygon points="194.30,465.85 196.95,470.65 191.65,470.65" fill="#000" stroke="#000" stroke-width="1.2" stroke-linejoin="miter"/>
<line x1="175.60" y1="465.30" x2="211.90" y2="465.30" stroke="#000" stroke-width="1.2" />
<line x1="177.30" y1="470.20" x2="211.00" y2="470.20" stroke="#000" stroke-width="1.4" />
<line x1="177.30" y1="475.00" x2="211.00" y2="475.00" stroke="#000" stroke-width="1.2" />
<line x1="194.30" y1="465.30" x2="194.30" y2="475.00" stroke="#000" stroke-width="1.1" />
<circle cx="16.70" cy="586.20" r="2.3" fill="none" stroke="#000" stroke-width="1.1"/>
<text x="21.67" y="588.80" font-size="7.31" font-weight="normal" fill="#222" textLength="60.61" lengthAdjust="spacingAndGlyphs" stroke="#222" stroke-width="0.15">Low #NK patients</text>
<rect x="91.70" y="584.60" width="3.4" height="3.4" fill="none" stroke="#000" stroke-width="1.0"/>
<text x="98.18" y="588.80" font-size="7.31" font-weight="normal" fill="#222" textLength="72.70" lengthAdjust="spacingAndGlyphs" stroke="#222" stroke-width="0.15">Medium #NK patients</text>
<polygon points="181.40,583.30 183.70,587.60 179.10,587.60" fill="none" stroke="#000" stroke-width="1.1" stroke-linejoin="miter"/>
<text x="187.58" y="588.80" font-size="7.31" font-weight="normal" fill="#222" textLength="61.40" lengthAdjust="spacingAndGlyphs" stroke="#222" stroke-width="0.15">High #NK patients</text>
<text x="261.14" y="410.00" font-size="11.4" font-weight="bold" fill="#000" stroke="#000" stroke-width="0.45">F</text>
<line x1="303.80" y1="417.80" x2="303.80" y2="560.35" stroke="#000" stroke-width="1.5" />
<line x1="300.60" y1="420.30" x2="303.80" y2="420.30" stroke="#000" stroke-width="1.5" />
<text x="284.43" y="423.20" font-size="8.30" font-weight="normal" fill="#383838" textLength="12.88" lengthAdjust="spacingAndGlyphs" >100</text>
<line x1="300.60" y1="448.10" x2="303.80" y2="448.10" stroke="#000" stroke-width="1.5" />
<text x="288.72" y="451.00" font-size="8.30" font-weight="normal" fill="#383838" textLength="8.59" lengthAdjust="spacingAndGlyphs" >80</text>
<line x1="300.60" y1="475.90" x2="303.80" y2="475.90" stroke="#000" stroke-width="1.5" />
<text x="288.72" y="478.80" font-size="8.30" font-weight="normal" fill="#383838" textLength="8.59" lengthAdjust="spacingAndGlyphs" >60</text>
<line x1="300.60" y1="503.70" x2="303.80" y2="503.70" stroke="#000" stroke-width="1.5" />
<text x="288.72" y="506.60" font-size="8.30" font-weight="normal" fill="#383838" textLength="8.59" lengthAdjust="spacingAndGlyphs" >40</text>
<line x1="300.60" y1="531.50" x2="303.80" y2="531.50" stroke="#000" stroke-width="1.5" />
<text x="288.72" y="534.40" font-size="8.30" font-weight="normal" fill="#383838" textLength="8.59" lengthAdjust="spacingAndGlyphs" >20</text>
<line x1="300.60" y1="559.30" x2="303.80" y2="559.30" stroke="#000" stroke-width="1.5" />
<text x="293.01" y="562.20" font-size="8.30" font-weight="normal" fill="#383838" textLength="4.29" lengthAdjust="spacingAndGlyphs" >0</text>
<text x="277.45" y="517.17" font-size="8.97" font-weight="bold" fill="#222" textLength="57.30" lengthAdjust="spacingAndGlyphs" transform="rotate(-90 277.45 517.17)">Percent expression</text>
<rect x="318.10" y="435.80" width="19.60" height="123.80" fill="#000" />
<line x1="323.50" y1="433.10" x2="332.30" y2="433.10" stroke="#000" stroke-width="1.2" />
<line x1="327.90" y1="433.10" x2="327.90" y2="435.80" stroke="#000" stroke-width="1.2" />
<rect x="346.20" y="436.70" width="19.60" height="122.90" fill="#c0c0c0" />
<line x1="351.60" y1="436.00" x2="360.40" y2="436.00" stroke="#000" stroke-width="1.2" />
<line x1="356.00" y1="436.00" x2="356.00" y2="436.70" stroke="#000" stroke-width="1.2" />
<rect x="374.40" y="437.70" width="19.60" height="121.90" fill="#404040" />
<line x1="379.80" y1="436.90" x2="388.60" y2="436.90" stroke="#000" stroke-width="1.2" />
<line x1="384.20" y1="436.90" x2="384.20" y2="437.70" stroke="#000" stroke-width="1.2" />
<rect x="421.50" y="500.20" width="19.60" height="59.40" fill="#000" />
<line x1="426.90" y1="490.60" x2="435.70" y2="490.60" stroke="#000" stroke-width="1.2" />
<line x1="431.30" y1="490.60" x2="431.30" y2="500.20" stroke="#000" stroke-width="1.2" />
<rect x="450.00" y="474.20" width="19.60" height="85.40" fill="#c0c0c0" />
<line x1="455.40" y1="470.80" x2="464.20" y2="470.80" stroke="#000" stroke-width="1.2" />
<line x1="459.80" y1="470.80" x2="459.80" y2="474.20" stroke="#000" stroke-width="1.2" />
<rect x="478.30" y="458.80" width="19.60" height="100.80" fill="#404040" />
<line x1="483.70" y1="456.00" x2="492.50" y2="456.00" stroke="#000" stroke-width="1.2" />
<line x1="488.10" y1="456.00" x2="488.10" y2="458.80" stroke="#000" stroke-width="1.2" />
<line x1="300.80" y1="559.60" x2="512.40" y2="559.60" stroke="#000" stroke-width="1.5" />
<text x="348.13" y="571.30" font-size="9.66" font-weight="bold" fill="#222" textLength="15.95" lengthAdjust="spacingAndGlyphs" >T-bet</text>
<text x="449.59" y="571.30" font-size="10.17" font-weight="bold" fill="#222" textLength="19.96" lengthAdjust="spacingAndGlyphs" >Eomes</text>
<line x1="428.30" y1="421.00" x2="490.80" y2="421.00" stroke="#111" stroke-width="1.5" />
<circle cx="457.20" cy="416.50" r="1.3" fill="#000"/>
<circle cx="461.00" cy="416.50" r="1.3" fill="#000"/>
<polyline points="457.5,448.8 457.5,440.6 488.5,440.6 488.5,449.0" fill="none" stroke="#000" stroke-width="1.2"/>
<circle cx="473.40" cy="436.30" r="1.3" fill="#000"/>
<polyline points="432.1,466.6 432.1,459.6 460.8,459.6 460.8,466.6" fill="none" stroke="#000" stroke-width="1.2"/>
<circle cx="446.20" cy="454.60" r="1.3" fill="#000"/>
<rect x="288.20" y="583.70" width="6.00" height="6.00" fill="#000" />
<text x="296.89" y="588.80" font-size="7.17" font-weight="normal" fill="#222" textLength="53.28" lengthAdjust="spacingAndGlyphs" stroke="#222" stroke-width="0.15">Healthy controls</text>
<rect x="364.60" y="583.70" width="5.80" height="5.80" fill="#c0c0c0" />
<text x="373.07" y="588.80" font-size="7.17" font-weight="normal" fill="#222" textLength="60.10" lengthAdjust="spacingAndGlyphs" stroke="#222" stroke-width="0.15">Low #NK patients</text>
<rect x="443.60" y="583.70" width="5.80" height="5.80" fill="#404040" />
<text x="451.77" y="588.80" font-size="7.17" font-weight="normal" fill="#222" textLength="62.01" lengthAdjust="spacingAndGlyphs" stroke="#222" stroke-width="0.15">High #NK patients</text>
<rect x="0" y="0" width="520" height="599" fill="none" stroke="#000" stroke-width="3"/>
</svg>
</body></html>
